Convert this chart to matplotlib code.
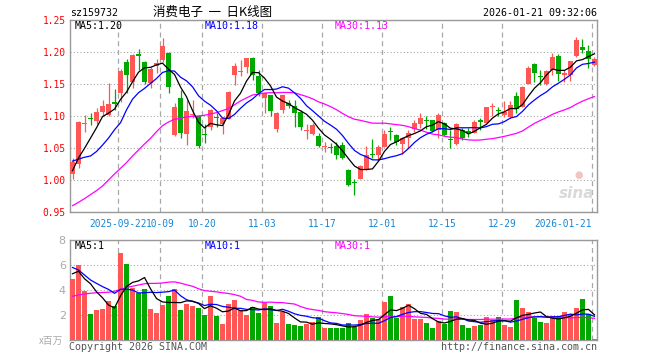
import matplotlib
matplotlib.use('Agg')
import matplotlib.pyplot as plt
import numpy as np

# ---------------- data ----------------
tick_index = [8, 15, 22, 32, 42, 52, 62, 72, 87]
tick_labels = ['2025-09-22', '10-09', '10-20', '11-03', '11-17', '12-01', '12-15', '12-29', '2026-01-21']

opens = [1.010, 1.0255, 1.0875, 1.0955, 1.0932, 1.1073, 1.1016, 1.123, 1.137, 1.185,
         1.154, 1.197, 1.185, 1.1516, 1.178, 1.188, 1.1995, 1.071, 1.128, 1.0724,
         1.102, 1.1005, 1.071, 1.084, 1.098, 1.088, 1.0964, 1.1646, 1.169, 1.1776,
         1.1917, 1.163, 1.129, 1.1333, 1.0797, 1.110, 1.121, 1.116, 1.107, 1.077,
         1.0724, 1.0693, 1.052, 1.0505, 1.0536, 1.055, 1.0161, 0.9955, 1.002, 1.017,
         1.0401, 1.0396, 1.0526, 1.0765, 1.0708, 1.0568, 1.0656, 1.0797, 1.0886, 1.0935,
         1.0943, 1.0787, 1.089, 1.0635, 1.0563, 1.0786, 1.075, 1.0745, 1.092, 1.090,
         1.114, 1.1085, 1.1021, 1.099, 1.1318, 1.1151, 1.1505, 1.1818, 1.1615, 1.1505,
         1.1724, 1.1948, 1.1646, 1.1646, 1.1943, 1.2089, 1.2026, 1.180]
highs = [1.035, 1.093, 1.102, 1.105, 1.1125, 1.1255, 1.1526, 1.142, 1.1735, 1.190,
         1.198, 1.205, 1.186, 1.1766, 1.190, 1.223, 1.2005, 1.121, 1.141, 1.125,
         1.125, 1.102, 1.088, 1.111, 1.105, 1.0985, 1.139, 1.183, 1.188, 1.1917,
         1.192, 1.1724, 1.137, 1.1333, 1.106, 1.134, 1.126, 1.125, 1.110, 1.088,
         1.089, 1.0734, 1.060, 1.058, 1.060, 1.060, 1.017, 1.0016, 1.024, 1.053,
         1.064, 1.055, 1.0787, 1.084, 1.0724, 1.068, 1.0787, 1.0943, 1.1047, 1.1005,
         1.095, 1.1047, 1.0917, 1.0786, 1.089, 1.0813, 1.0813, 1.0943, 1.097, 1.115,
         1.1214, 1.114, 1.1234, 1.1234, 1.1385, 1.1474, 1.179, 1.184, 1.1724, 1.1724,
         1.1995, 1.1974, 1.1724, 1.1865, 1.2245, 1.2203, 1.2115, 1.192]
lows = [1.002, 1.020, 1.076, 1.086, 1.0875, 1.1005, 1.1005, 1.110, 1.123, 1.136,
        1.145, 1.172, 1.150, 1.145, 1.167, 1.185, 1.136, 1.069, 1.0656, 1.055,
        1.098, 1.050, 1.059, 1.079, 1.084, 1.072, 1.096, 1.149, 1.163, 1.168,
        1.156, 1.131, 1.105, 1.100, 1.076, 1.105, 1.1125, 1.084, 1.079, 1.0646,
        1.071, 1.0526, 1.045, 1.043, 1.034, 1.033, 0.991, 0.977, 1.0016, 1.016,
        1.0344, 1.032, 1.0516, 1.063, 1.055, 1.041, 1.050, 1.076, 1.082, 1.0797,
        1.076, 1.066, 1.0688, 1.050, 1.0552, 1.063, 1.068, 1.0735, 1.0786, 1.089,
        1.1005, 1.1005, 1.099, 1.0974, 1.1047, 1.114, 1.150, 1.1542, 1.149, 1.149,
        1.1646, 1.1557, 1.1542, 1.1557, 1.1932, 1.1984, 1.175, 1.178]
closes = [1.029, 1.0917, 1.0875, 1.095, 1.1073, 1.116, 1.119, 1.1195, 1.170, 1.165,
          1.196, 1.194, 1.154, 1.1734, 1.184, 1.210, 1.146, 1.114, 1.0745, 1.108,
          1.103, 1.0536, 1.070, 1.110, 1.097, 1.097, 1.1378, 1.1786, 1.170, 1.1917,
          1.1646, 1.136, 1.136, 1.109, 1.1047, 1.1333, 1.116, 1.105, 1.084, 1.0776,
          1.0865, 1.0536, 1.0526, 1.050, 1.0396, 1.0344, 0.9927, 0.995, 1.0224, 1.0396,
          1.0396, 1.0526, 1.0719, 1.076, 1.0604, 1.0656, 1.0745, 1.0891, 1.0969, 1.093,
          1.0776, 1.102, 1.071, 1.063, 1.088, 1.0656, 1.0745, 1.0917, 1.0917, 1.114,
          1.114, 1.108, 1.1073, 1.1183, 1.111, 1.1464, 1.176, 1.1682, 1.161, 1.1708,
          1.1932, 1.1656, 1.1682, 1.1865, 1.2193, 1.2036, 1.189, 1.190]
volumes = [4.88, 6.0, 3.92, 2.08, 2.4, 2.48, 3.12, 2.72, 6.96, 6.08,
           4.16, 3.73, 4.05, 2.48, 2.16, 2.8, 3.52, 4.05, 2.4, 2.88,
           2.72, 2.56, 2.0, 3.52, 1.92, 1.28, 2.88, 3.2, 2.4, 2.0,
           2.61, 2.16, 2.99, 2.72, 1.36, 2.27, 1.28, 1.2, 1.12, 1.28,
           1.44, 1.81, 0.96, 0.96, 0.96, 0.96, 1.36, 1.07, 1.6, 2.08,
           1.73, 1.65, 3.07, 3.52, 1.79, 2.64, 2.88, 1.68, 1.68, 1.36,
           0.96, 1.52, 1.28, 2.32, 2.24, 1.2, 0.96, 1.12, 1.2, 1.84,
           1.6, 1.84, 1.2, 1.04, 3.2, 2.56, 2.24, 1.76, 1.44, 1.36,
           1.92, 1.92, 2.24, 2.08, 2.56, 3.28, 2.08, 0.08]

# moving-average values at the start of the window (history before first candle)
ma5_head = [1.015, 1.035, 1.050, 1.066]
ma10_head = [1.030, 1.033, 1.036, 1.038, 1.045, 1.055, 1.066, 1.079, 1.090]
ma30_head = [0.9604, 0.9656, 0.9714, 0.9776, 0.9839, 0.9911, 1.0005, 1.0099, 1.0188, 1.0276,
             1.038, 1.0474, 1.0568, 1.0656, 1.076, 1.0854, 1.0911, 1.0953, 1.097, 1.099,
             1.100, 1.1005, 1.1016, 1.1036, 1.1057, 1.109, 1.112, 1.118, 1.124]
vma5_head = [5.3, 5.5, 4.9, 4.5]
vma10_head = [5.8, 5.6, 5.2, 4.8, 4.53, 4.27, 4.05, 3.73, 4.05]
vma30_head = [3.5, 3.6, 3.68, 3.74, 3.78, 3.8, 3.82, 3.9, 4.05, 4.2,
              4.3, 4.4, 4.5, 4.53, 4.53, 4.56, 4.63, 4.65, 4.55, 4.42,
              4.3, 4.1, 3.95, 3.9, 3.85, 3.78, 3.72, 3.63, 3.5]

price_ticks = [0.95, 1.00, 1.05, 1.10, 1.15, 1.20, 1.25]
vol_ticks = [2, 4, 6, 8]

title_code = 'sz159732'
title_name = '消费电子  一  日K线图'
timestamp = '2026-01-21 09:32:06'
ma_labels = ['MA5:1.20', 'MA10:1.18', 'MA30:1.13']
vma_labels = ['MA5:1', 'MA10:1', 'MA30:1']

# ---------------- helpers ----------------
def moving_average(vals, n, head):
    vals = np.asarray(vals, dtype=float)
    body = [vals[i - n + 1:i + 1].mean() for i in range(n - 1, len(vals))]
    return np.array(list(head) + body)

W, H = 660, 360
RED = '#ff5656'
GREEN = '#00a800'
MONO = 'DejaVu Sans Mono'
GRID = '#a8a8a8'
SPINE = '#999999'

fig = plt.figure(figsize=(W / 100, H / 100), dpi=100)
fig.patch.set_facecolor('white')

def fx(px):
    return px / W

def fy(py):
    return 1 - py / H

ax = fig.add_axes([fx(70), fy(212.3), 527 / W, 192 / H])
axv = fig.add_axes([fx(70), fy(340), 527 / W, 100 / H])

n = len(closes)
x = np.arange(n)
o = np.array(opens); c = np.array(closes); hi = np.array(highs); lo = np.array(lows)
up = c >= o
cols = np.where(up, RED, GREEN)

xlim = (-0.42, n - 1 + 0.42)
grid_x = np.array(tick_index) - 0.37

for a in (ax, axv):
    a.set_xlim(*xlim)
    for s in a.spines.values():
        s.set_color(SPINE)
        s.set_linewidth(1.0)
    a.set_xticks(grid_x)
    a.tick_params(length=0)
    a.grid(axis='x', color=GRID, linestyle=(0, (4, 3)), linewidth=0.9)
    a.grid(axis='y', color=GRID, linestyle=(0, (1, 2)), linewidth=0.8)
    a.set_axisbelow(True)

# ----- price panel -----
ax.set_ylim(0.95, 1.25)
ax.set_yticks(price_ticks)
ax.set_yticklabels([f'{t:.2f}' for t in price_ticks], color='#ff0000',
                   fontsize=6.9, family=MONO)
ax.tick_params(axis='y', pad=3)
ax.set_xticklabels(tick_labels, color='#1587d6', fontsize=6.85, family=MONO)
ax.tick_params(axis='x', pad=4.5)
ax.get_xticklabels()[-1].set_ha('right')

ax.vlines(x, lo, hi, colors=cols, linewidth=0.9, zorder=2)
body_h = np.maximum(np.abs(c - o), 0.0018)
body_b = np.minimum(o, c)
ax.bar(x, body_h, bottom=body_b, width=0.82, color=cols, linewidth=0, zorder=3)

ma5 = moving_average(closes, 5, ma5_head)
ma10 = moving_average(closes, 10, ma10_head)
ma30 = moving_average(closes, 30, ma30_head)
ax.plot(x, ma30, color='#ff00ff', lw=0.9, zorder=4)
ax.plot(x, ma10, color='#0000ff', lw=0.9, zorder=4)
ax.plot(x, ma5, color='#000000', lw=0.9, zorder=5)

# ----- volume panel -----
axv.set_ylim(0, 8)
axv.set_yticks(vol_ticks)
axv.set_yticklabels([str(t) for t in vol_ticks], color='#aaaaaa', fontsize=8)
axv.tick_params(axis='y', pad=3)
axv.set_xticklabels([])
axv.bar(x, volumes, width=0.8, color=cols, linewidth=0, zorder=3)
vma5 = moving_average(volumes, 5, vma5_head)
vma10 = moving_average(volumes, 10, vma10_head)
vma30 = moving_average(volumes, 30, vma30_head)
axv.plot(x, vma30, color='#ff00ff', lw=0.9, zorder=4)
axv.plot(x, vma10, color='#0000ff', lw=0.9, zorder=4)
axv.plot(x, vma5, color='#000000', lw=0.9, zorder=5)

# ----- texts -----
fig.text(fx(70), fy(12.5), title_code, ha='left', va='center', fontsize=7.2, family=MONO)
fig.text(fx(213), fy(12.5), title_name, ha='center', va='center', fontsize=9,
         family=['Noto Sans CJK SC', 'DejaVu Sans'])
fig.text(fx(597), fy(12.5), timestamp, ha='right', va='center', fontsize=7.2, family=MONO)

ma_cols = ['#000000', '#0000ff', '#ff00ff']
for lab, col, px in zip(ma_labels, ma_cols, [75, 205, 335]):
    fig.text(fx(px), fy(26), lab, ha='left', va='center', color=col, fontsize=7.2, family=MONO)
for lab, col, px in zip(vma_labels, ma_cols, [75, 205, 335]):
    fig.text(fx(px), fy(246), lab, ha='left', va='center', color=col, fontsize=7.2, family=MONO)

fig.text(fx(63), fy(340.5), 'x百万', ha='right', va='center', color='#aaaaaa', fontsize=7,
         family=['Noto Sans CJK SC', 'DejaVu Sans'])
fig.text(fx(69), fy(346.5), 'Copyright 2026 SINA.COM', ha='left', va='center',
         color='#555555', fontsize=7.2, family=MONO)
fig.text(fx(597), fy(346.5), 'http://finance.sina.com.cn', ha='right', va='center',
         color='#555555', fontsize=7.2, family=MONO)

# watermark
ax.text(0.995, 0.06, 'sina', transform=ax.transAxes, ha='right', va='bottom',
        fontsize=11, fontstyle='italic', fontweight='bold', color='#d9d9d9', zorder=1)
ax.text(0.965, 0.17, '●', transform=ax.transAxes, ha='center', va='bottom',
        fontsize=7, color='#f3c4c4', zorder=1)

fig.savefig('out.png', dpi=100)
